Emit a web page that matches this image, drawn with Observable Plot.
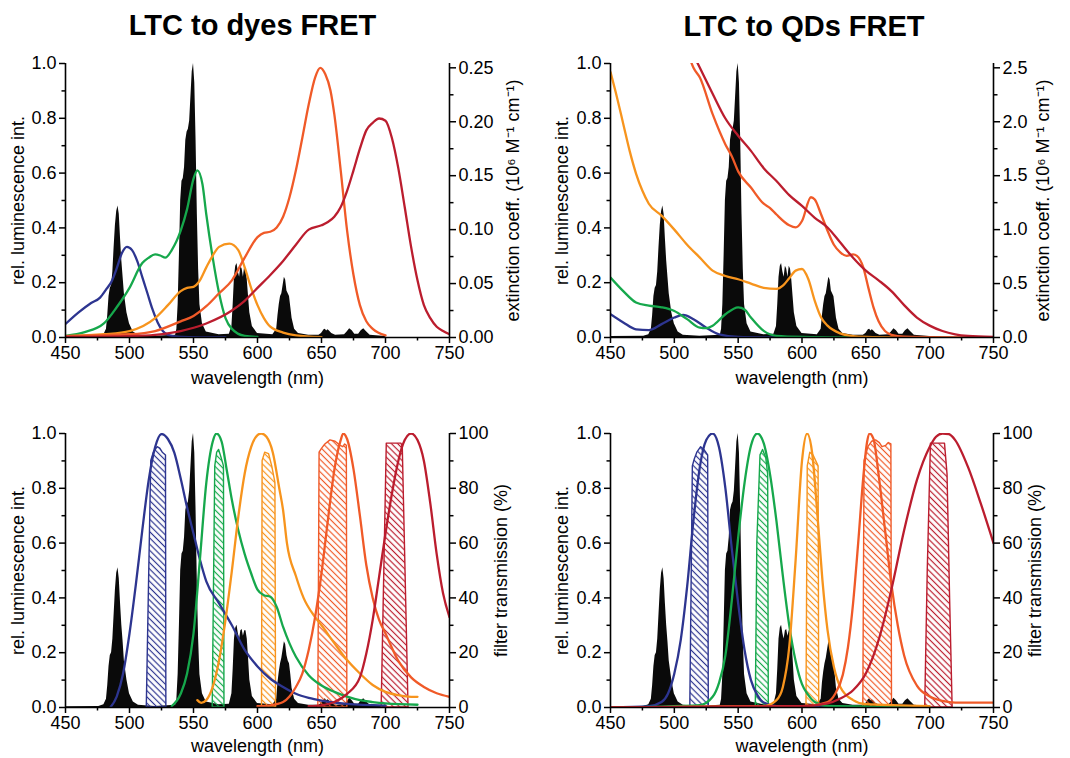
<!DOCTYPE html>
<html>
<head>
<meta charset="utf-8">
<script src="https://cdn.jsdelivr.net/npm/d3@7"></script>
<script src="https://cdn.jsdelivr.net/npm/@observablehq/plot@0.6"></script>
<style>
  html, body { margin: 0; padding: 0; background: #fff; }
  #root { position: relative; width: 1070px; height: 758px; overflow: hidden; font-family: "Liberation Sans", Arial, sans-serif; }
  .title { position: absolute; font-weight: bold; font-size: 29px; line-height: 29px; text-align: center; color: #000; }
  .panel { position: absolute; }
  .panel svg { overflow: visible; }
  g[aria-label="x-axis tick label"], g[aria-label="y-axis tick label"] {
    font-family: "Liberation Sans Narrow", "Arial Narrow", "Liberation Sans", sans-serif; font-size: 18px;
  }
  g[aria-label="x-axis label"], g[aria-label="y-axis label"] { font-size: 18px; }
</style>
</head>
<body>
<div id="root">
  <svg width="0" height="0" style="position:absolute"><defs id="patterns"></defs></svg>
  <div class="title" style="left:0px;width:505px;top:11px;">LTC to dyes FRET</div>
  <div class="title" style="left:604px;width:400px;top:12px;">LTC to QDs FRET</div>
  <div class="panel" id="p1" style="left:0px;top:40px;"></div>
  <div class="panel" id="p2" style="left:535px;top:40px;"></div>
  <div class="panel" id="p3" style="left:0px;top:410px;"></div>
  <div class="panel" id="p4" style="left:535px;top:410px;"></div>
</div>
<script>
// ---------- axes ----------
const xDomain = [450, 750];
const xTicks = [450, 500, 550, 600, 650, 700, 750];
const xMinor = [475, 525, 575, 625, 675, 725];
const lumTicks = [0, 0.2, 0.4, 0.6, 0.8, 1.0];
const lumMinor = [0.1, 0.3, 0.5, 0.7, 0.9];
const dyeExtTicks = [0, 0.05, 0.10, 0.15, 0.20, 0.25];
const dyeExtMinor = [0.025, 0.075, 0.125, 0.175, 0.225];
const dyeExtMax = 0.254;
const qdExtTicks = [0, 0.5, 1.0, 1.5, 2.0, 2.5];
const qdExtMinor = [0.25, 0.75, 1.25, 1.75, 2.25];
const qdExtMax = 2.54;
const filterTicks = [0, 20, 40, 60, 80, 100];
const filterMinor = [10, 30, 50, 70, 90];
const filterMax = 100;

const palette = { blue: "#2d3590", green: "#16a84c", orange: "#f7941d", orangeRed: "#f05a28", darkRed: "#bb1d2e" };

// ---------- LTC (Tb) luminescence ----------
const tbTop = [[450,0.004],[476,0.005],[480,0.01],[482,0.03],[483,0.08],[484,0.15],[485,0.18],[486,0.19],[487,0.24],[488,0.33],[489,0.41],[490,0.46],[491,0.48],[492,0.45],[493,0.36],[494,0.28],[495,0.22],[496,0.16],[498,0.09],[500,0.05],[503,0.02],[507,0.008],[520,0.005],[536,0.008],[537,0.03],[538,0.12],[539,0.3],[540,0.5],[541,0.57],[542,0.58],[543,0.62],[544,0.72],[545,0.75],[546,0.76],[547,0.79],[548,0.88],[549,0.97],[550,1.0],[551,0.93],[552,0.72],[553,0.45],[554,0.25],[555,0.12],[557,0.05],[560,0.02],[570,0.01],[578,0.012],[580,0.04],[581,0.12],[582,0.22],[583,0.26],[584,0.27],[585,0.24],[586,0.22],[587,0.26],[588,0.25],[589,0.22],[590,0.26],[591,0.25],[592,0.21],[593,0.15],[594,0.09],[596,0.04],[600,0.015],[612,0.01],[615,0.03],[616,0.08],[617,0.12],[618,0.15],[619,0.16],[620,0.19],[621,0.22],[622,0.21],[623,0.17],[624,0.16],[625,0.15],[626,0.11],[627,0.07],[629,0.03],[632,0.015],[640,0.008],[648,0.008],[650,0.015],[652,0.028],[653,0.03],[654,0.024],[655,0.028],[656,0.025],[658,0.015],[661,0.008],[668,0.01],[670,0.02],[672,0.032],[674,0.025],[676,0.012],[679,0.012],[681,0.025],[683,0.032],[685,0.022],[688,0.008],[700,0.004],[700.5,0]];
const tbBottom = [[450,0.003],[476,0.004],[480,0.01],[482,0.03],[483,0.08],[484,0.15],[485,0.19],[486,0.2],[487,0.25],[488,0.34],[489,0.43],[490,0.49],[491,0.51],[492,0.47],[493,0.38],[494,0.3],[495,0.24],[496,0.17],[498,0.1],[500,0.05],[503,0.02],[507,0.008],[520,0.004],[536,0.008],[537,0.03],[538,0.12],[539,0.3],[540,0.5],[541,0.56],[542,0.57],[543,0.62],[544,0.72],[545,0.74],[546,0.75],[547,0.79],[548,0.88],[549,0.97],[550,1.0],[551,0.93],[552,0.72],[553,0.45],[554,0.25],[555,0.12],[557,0.05],[560,0.02],[570,0.01],[578,0.012],[580,0.05],[581,0.14],[582,0.25],[583,0.29],[584,0.30],[585,0.27],[586,0.25],[587,0.28],[588,0.285],[589,0.26],[590,0.28],[591,0.28],[592,0.25],[593,0.18],[594,0.1],[596,0.04],[600,0.015],[612,0.01],[615,0.03],[616,0.09],[617,0.13],[618,0.16],[619,0.18],[620,0.21],[621,0.24],[622,0.23],[623,0.19],[624,0.17],[625,0.16],[626,0.12],[627,0.07],[629,0.03],[632,0.015],[640,0.008],[648,0.008],[650,0.015],[652,0.028],[653,0.032],[654,0.025],[655,0.028],[656,0.025],[658,0.015],[661,0.008],[668,0.01],[670,0.02],[672,0.034],[674,0.025],[676,0.012],[679,0.012],[681,0.025],[683,0.032],[685,0.022],[688,0.008],[700,0.004],[700.5,0]];

// ---------- dye absorption (10^6 M^-1 cm^-1) ----------
const dyeAbsBlue = [[450,0.0125],[460,0.023],[470,0.032],[477,0.037],[482,0.045],[486,0.052],[490,0.064],[494,0.078],[498,0.084],[502,0.081],[506,0.071],[510,0.056],[514,0.041],[518,0.026],[522,0.014],[526,0.006],[530,0.0025],[540,0.0006],[575,0]];
const dyeAbsGreen = [[450,0.0015],[465,0.005],[480,0.013],[490,0.028],[500,0.046],[510,0.069],[515,0.074],[520,0.077],[524,0.076],[528,0.074],[533,0.081],[540,0.099],[545,0.119],[550,0.147],[553,0.155],[557,0.142],[560,0.114],[565,0.074],[570,0.041],[575,0.018],[580,0.008],[590,0.0015],[600,0.0005]];
const dyeAbsOrange = [[450,0.0013],[480,0.003],[500,0.006],[520,0.018],[530,0.03],[540,0.043],[545,0.046],[550,0.047],[555,0.053],[560,0.065],[565,0.076],[570,0.084],[578,0.087],[585,0.081],[590,0.065],[595,0.046],[600,0.03],[605,0.018],[610,0.01],[620,0.0046],[630,0.002],[650,0.0003]];
const dyeAbsOrangeRed = [[450,0.0013],[500,0.003],[520,0.006],[540,0.015],[550,0.02],[560,0.029],[570,0.041],[580,0.053],[590,0.074],[600,0.093],[605,0.097],[610,0.098],[615,0.102],[620,0.112],[625,0.13],[630,0.155],[635,0.185],[640,0.216],[645,0.241],[649,0.25],[653,0.244],[657,0.229],[660,0.207],[665,0.155],[670,0.099],[675,0.058],[680,0.03],[685,0.015],[690,0.008],[700,0.002]];
const dyeAbsDarkRed = [[450,0.0005],[500,0.0013],[520,0.0025],[540,0.006],[560,0.013],[580,0.025],[590,0.034],[600,0.046],[610,0.058],[620,0.071],[630,0.086],[640,0.1],[650,0.104],[655,0.107],[660,0.112],[665,0.121],[670,0.136],[675,0.155],[680,0.175],[685,0.192],[690,0.199],[695,0.203],[700,0.201],[705,0.185],[710,0.157],[715,0.121],[720,0.084],[725,0.053],[730,0.03],[735,0.018],[740,0.01],[745,0.006],[750,0.003]];

// ---------- QD absorption (10^6 M^-1 cm^-1) ----------
const qdAbsOrange = [[450,2.46],[455,2.23],[460,1.98],[465,1.73],[470,1.52],[475,1.36],[480,1.24],[490,1.13],[500,1.0],[510,0.86],[520,0.74],[530,0.62],[540,0.57],[550,0.54],[560,0.5],[570,0.46],[580,0.45],[585,0.48],[590,0.55],[595,0.62],[600,0.635],[605,0.54],[610,0.34],[615,0.185],[620,0.11],[630,0.038],[640,0.013],[650,0.005],[680,0]];
const qdAbsGreen = [[450,0.556],[460,0.43],[470,0.325],[480,0.295],[490,0.28],[500,0.246],[510,0.17],[520,0.091],[525,0.086],[530,0.109],[540,0.216],[550,0.28],[555,0.26],[560,0.185],[570,0.061],[580,0.015],[600,0.005],[640,0]];
const qdAbsBlue = [[450,0.216],[460,0.14],[470,0.076],[480,0.069],[490,0.124],[500,0.185],[507,0.21],[515,0.17],[525,0.091],[535,0.03],[550,0.005],[580,0]];
const qdAbsOrangeRed = [[510,2.66],[515,2.5],[520,2.41],[530,2.07],[540,1.79],[545,1.68],[550,1.54],[560,1.39],[570,1.24],[575,1.2],[580,1.14],[590,1.04],[595,1.02],[600,1.08],[607,1.3],[610,1.28],[615,1.14],[620,0.99],[625,0.86],[630,0.79],[635,0.757],[640,0.77],[643,0.757],[648,0.65],[652,0.46],[656,0.28],[660,0.15],[665,0.06],[670,0.025],[680,0.008],[750,0]];
const qdAbsDarkRed = [[515,2.62],[520,2.5],[530,2.26],[540,2.03],[550,1.87],[560,1.73],[570,1.57],[580,1.45],[590,1.32],[600,1.22],[610,1.11],[620,1.02],[630,0.88],[640,0.74],[650,0.62],[660,0.53],[670,0.43],[680,0.3],[690,0.185],[700,0.11],[710,0.06],[720,0.03],[730,0.015],[750,0.005]];

// ---------- dye emission (rel.) ----------
const dyeEmBlue = [[485,0],[490,0.04],[495,0.124],[500,0.27],[505,0.45],[510,0.647],[515,0.83],[520,0.95],[525,0.998],[530,0.98],[535,0.93],[540,0.836],[545,0.73],[550,0.635],[555,0.54],[560,0.46],[570,0.38],[580,0.3],[590,0.21],[600,0.15],[610,0.105],[620,0.075],[630,0.05],[640,0.035],[650,0.025],[670,0.013],[700,0.007]];
const dyeEmGreen = [[533,0.005],[540,0.05],[545,0.124],[550,0.27],[555,0.54],[560,0.82],[565,0.97],[568,1.0],[572,0.97],[576,0.866],[580,0.757],[585,0.647],[590,0.56],[595,0.49],[600,0.43],[605,0.41],[610,0.404],[615,0.367],[620,0.294],[625,0.234],[630,0.185],[640,0.118],[650,0.08],[660,0.057],[670,0.04],[680,0.027],[690,0.02],[700,0.015],[725,0.01]];
const dyeEmOrange = [[553,0.027],[556,0.017],[560,0.027],[565,0.075],[570,0.173],[575,0.32],[580,0.5],[585,0.696],[590,0.854],[595,0.95],[600,0.994],[603,1.0],[607,0.988],[612,0.93],[617,0.8],[620,0.72],[623,0.6],[630,0.48],[636,0.4],[645,0.33],[650,0.3],[660,0.235],[670,0.173],[680,0.124],[690,0.082],[700,0.057],[710,0.045],[720,0.039],[725,0.039]];
const dyeEmOrangeRed = [[600,0.005],[610,0.008],[620,0.02],[625,0.04],[630,0.075],[635,0.124],[640,0.21],[645,0.33],[650,0.49],[655,0.684],[660,0.866],[665,0.976],[667,1.0],[670,0.98],[675,0.87],[680,0.7],[685,0.52],[690,0.4],[695,0.32],[700,0.27],[710,0.17],[720,0.11],[730,0.075],[740,0.052],[750,0.039]];
const dyeEmDarkRed = [[640,0.005],[650,0.008],[660,0.02],[670,0.05],[680,0.11],[685,0.197],[690,0.32],[695,0.477],[700,0.635],[705,0.78],[710,0.9],[715,0.976],[720,1.0],[725,0.976],[730,0.9],[735,0.745],[740,0.56],[745,0.416],[750,0.33]];

// ---------- QD emission (rel.) ----------
const qdEmBlue = [[450,0],[480,0.005],[490,0.02],[495,0.05],[500,0.124],[505,0.246],[510,0.44],[515,0.684],[520,0.878],[525,0.976],[530,1.0],[535,0.95],[540,0.8],[545,0.58],[550,0.38],[555,0.21],[560,0.1],[565,0.045],[570,0.018],[580,0.005],[600,0.002],[640,0]];
const qdEmGreen = [[450,0],[520,0.009],[530,0.039],[535,0.09],[540,0.19],[545,0.39],[550,0.62],[555,0.82],[560,0.955],[565,1.0],[570,0.965],[575,0.85],[580,0.68],[585,0.48],[590,0.3],[595,0.17],[600,0.085],[605,0.045],[610,0.02],[620,0.006],[700,0.002]];
const qdEmOrange = [[450,0],[570,0.005],[580,0.027],[585,0.075],[590,0.22],[595,0.538],[600,0.9],[604,1.0],[608,0.927],[612,0.708],[616,0.465],[620,0.282],[625,0.148],[630,0.075],[640,0.027],[650,0.012],[700,0.005]];
const qdEmOrangeRed = [[450,0],[600,0.005],[620,0.02],[626,0.05],[632,0.12],[636,0.22],[640,0.38],[644,0.6],[648,0.84],[651,0.97],[653,1.0],[656,0.98],[660,0.85],[665,0.65],[670,0.45],[675,0.3],[680,0.19],[690,0.08],[700,0.04],[710,0.024],[720,0.018],[750,0.018]];
const qdEmDarkRed = [[450,0],[600,0.005],[620,0.015],[630,0.033],[640,0.063],[650,0.124],[660,0.246],[670,0.43],[680,0.647],[690,0.83],[700,0.951],[705,0.988],[710,1.0],[715,0.998],[720,0.976],[730,0.878],[740,0.745],[750,0.6]];

// ---------- filter transmission (%) ----------
const dyeFilterBlue = [[513.5,0],[517,90],[519,93],[522,95],[524,94.5],[526,93],[528.5,92],[528.8,0]];
const dyeFilterGreen = [[565,0],[567,88],[568.5,93],[570,94],[572,91],[573.8,88],[574.2,0]];
const dyeFilterOrange = [[603.5,0],[604,90],[606,93],[609,92.5],[611.5,88],[614,82],[614.5,0]];
const dyeFilterOrangeRed = [[647.5,0],[648.5,93],[650.5,94.5],[653,96],[657,97.5],[661,97],[665,95.5],[667,95],[668.5,96],[669.8,95.5],[670.2,0]];
const dyeFilterDarkRed = [[697,0],[701,96.3],[712.5,96.3],[713.5,95],[718,0]];
const qdFilterBlue = [[512.5,0],[514.5,88],[516,90.5],[518,93],[521,95],[523.5,94],[526.5,92],[527,0]];
const qdFilterGreen = [[563.8,0],[565,60],[567.5,92],[569.5,94],[572,91],[573.5,85],[574,0]];
const qdFilterOrange = [[603.5,0],[604.5,88],[606.5,93],[609,92],[611,90],[613,88],[613.5,0]];
const qdFilterOrangeRed = [[648,0],[649,90],[652,95],[655,97],[658,97.5],[661,96.5],[663,95],[666,95.5],[668,96.5],[670,96],[670.5,0]];
const qdFilterDarkRed = [[696.5,0],[698.5,50],[701,96.3],[712,96.3],[714,85],[716,40],[718,0]];

// ---------- hatch patterns ----------
const defs = d3.select("#patterns");
Object.entries(palette).forEach(([key, color]) => {
  const p = defs.append("pattern").attr("id", "hatch-" + key)
    .attr("patternUnits", "userSpaceOnUse").attr("width", 4.4).attr("height", 4.4)
    .attr("patternTransform", "rotate(-45)");
  p.append("line").attr("x1", 2.2).attr("x2", 2.2).attr("y1", -1).attr("y2", 5.4)
    .attr("stroke", color).attr("stroke-width", 1.2);
});

function panel(o) {
  const X = d => d[0];
  const marks = [Plot.areaY(o.tb, {x: X, y: d => d[1], fill: "#0a0a0a", curve: "linear"})];
  (o.filters || []).forEach(f => marks.push(Plot.areaY(f.data, {
    x: X, y: d => d[1] / o.rightMax, fill: `url(#hatch-${f.key})`, stroke: palette[f.key], strokeWidth: 1.4, curve: "linear"})));
  o.curves.forEach(c => marks.push(Plot.line(c.data, {
    x: X, y: d => d[1] / o.curveDiv, stroke: palette[c.key], strokeWidth: 2.3, curve: "monotone-x", clip: true})));
  marks.push(
    Plot.ruleY([0], {stroke: "#000", strokeWidth: 1.6}),
    Plot.ruleX(xDomain, {stroke: "#000", strokeWidth: 1.6}),
    Plot.axisX(xTicks, {tickSize: 6, strokeWidth: 1.5, tickPadding: 3, tickFormat: d => String(d),
      label: "wavelength (nm)", labelAnchor: "center", labelArrow: "none", labelOffset: o.xLabelOffset}),
    Plot.axisX(xMinor, {tickSize: 3.5, strokeWidth: 1.5, tickFormat: () => "", label: null}),
    Plot.axisY(lumTicks, {anchor: "left", tickSize: 6, strokeWidth: 1.5, tickPadding: 3, tickFormat: d => d.toFixed(1),
      label: "rel. luminescence int.", labelAnchor: "center", labelArrow: "none", labelOffset: o.yLabelOffset}),
    Plot.axisY(lumMinor, {anchor: "left", tickSize: 3.5, strokeWidth: 1.5, tickFormat: () => "", label: null}),
    Plot.axisY(o.rightTicks.map(t => t / o.rightMax), {anchor: "right", tickSize: 6, strokeWidth: 1.5, tickPadding: 3,
      tickFormat: d => o.rightFormat(d * o.rightMax),
      label: o.rightLabel, labelAnchor: "center", labelArrow: "none", labelOffset: o.rLabelOffset}),
    Plot.axisY(o.rightMinor.map(t => t / o.rightMax), {anchor: "right", tickSize: 3.5, strokeWidth: 1.5, tickFormat: () => "", label: null})
  );
  return Plot.plot({
    width: 535, height: o.height,
    marginLeft: o.ml, marginRight: o.mr, marginTop: 23, marginBottom: o.height - 23 - 274,
    x: {domain: xDomain}, y: {domain: [0, 1]},
    style: {fontFamily: "'Liberation Sans', Arial, sans-serif", fontSize: "18px", color: "#000", background: "transparent"},
    marks
  });
}

const extLabel = "extinction coeff. (10⁶ M⁻¹ cm⁻¹)";
const filterLabel = "filter transmission (%)";

document.getElementById("p1").append(panel({
  tb: tbTop, height: 352, ml: 65, mr: 86, curveDiv: dyeExtMax, rightMax: dyeExtMax,
  rightTicks: dyeExtTicks, rightMinor: dyeExtMinor, rightFormat: v => v.toFixed(2), rightLabel: extLabel,
  xLabelOffset: 46, yLabelOffset: 54, rLabelOffset: 69,
  curves: [{key: "blue", data: dyeAbsBlue}, {key: "green", data: dyeAbsGreen}, {key: "orange", data: dyeAbsOrange},
           {key: "orangeRed", data: dyeAbsOrangeRed}, {key: "darkRed", data: dyeAbsDarkRed}]
}));
document.getElementById("p2").append(panel({
  tb: tbTop, height: 352, ml: 75, mr: 77, curveDiv: qdExtMax, rightMax: qdExtMax,
  rightTicks: qdExtTicks, rightMinor: qdExtMinor, rightFormat: v => v.toFixed(1), rightLabel: extLabel,
  xLabelOffset: 46, yLabelOffset: 55, rLabelOffset: 55,
  curves: [{key: "blue", data: qdAbsBlue}, {key: "green", data: qdAbsGreen}, {key: "orange", data: qdAbsOrange},
           {key: "orangeRed", data: qdAbsOrangeRed}, {key: "darkRed", data: qdAbsDarkRed}]
}));
document.getElementById("p3").append(panel({
  tb: tbBottom, height: 348, ml: 65, mr: 86, curveDiv: 1, rightMax: filterMax,
  rightTicks: filterTicks, rightMinor: filterMinor, rightFormat: v => String(Math.round(v)), rightLabel: filterLabel,
  xLabelOffset: 44, yLabelOffset: 54, rLabelOffset: 57,
  filters: [{key: "blue", data: dyeFilterBlue}, {key: "green", data: dyeFilterGreen}, {key: "orange", data: dyeFilterOrange},
            {key: "orangeRed", data: dyeFilterOrangeRed}, {key: "darkRed", data: dyeFilterDarkRed}],
  curves: [{key: "blue", data: dyeEmBlue}, {key: "green", data: dyeEmGreen}, {key: "orange", data: dyeEmOrange},
           {key: "orangeRed", data: dyeEmOrangeRed}, {key: "darkRed", data: dyeEmDarkRed}]
}));
document.getElementById("p4").append(panel({
  tb: tbBottom, height: 348, ml: 75, mr: 77, curveDiv: 1, rightMax: filterMax,
  rightTicks: filterTicks, rightMinor: filterMinor, rightFormat: v => String(Math.round(v)), rightLabel: filterLabel,
  xLabelOffset: 44, yLabelOffset: 55, rLabelOffset: 47,
  filters: [{key: "blue", data: qdFilterBlue}, {key: "green", data: qdFilterGreen}, {key: "orange", data: qdFilterOrange},
            {key: "orangeRed", data: qdFilterOrangeRed}, {key: "darkRed", data: qdFilterDarkRed}],
  curves: [{key: "blue", data: qdEmBlue}, {key: "green", data: qdEmGreen}, {key: "orange", data: qdEmOrange},
           {key: "orangeRed", data: qdEmOrangeRed}, {key: "darkRed", data: qdEmDarkRed}]
}));
</script>
</body>
</html>
